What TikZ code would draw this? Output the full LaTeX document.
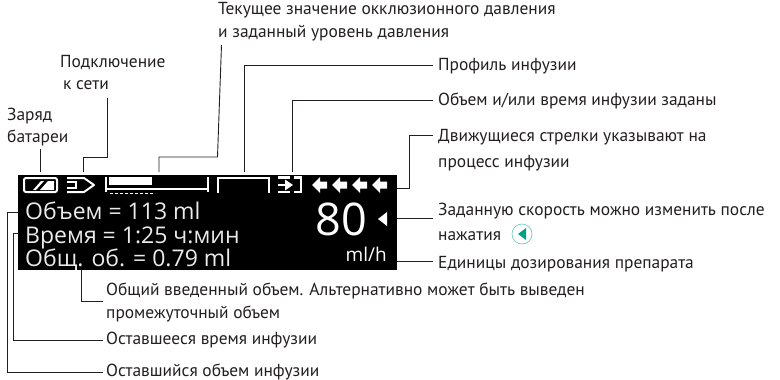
\documentclass[tikz,border=0pt]{standalone}
\usepackage{fontspec}
\setmainfont{PT Sans}
\newfontfamily\dispfont{Open Sans}
\definecolor{ink}{HTML}{231F20}
\definecolor{teal1}{HTML}{00A088}
\tikzset{
  lead/.style={draw=ink,line width=0.9pt},
  cap1/.style={anchor=base west,inner sep=0pt,text=ink,font=\fontsize{17.4}{18}\selectfont},
  disp/.style={anchor=base west,inner sep=0pt,text=white!92!black,font=\dispfont\fontsize{23}{24}\selectfont},
  pix/.style={draw=white,line width=2pt},
}
\begin{document}
\begin{tikzpicture}[x=1pt,y=-1pt]
\useasboundingbox (0,0) rectangle (780,380);
\fill[black] (18,175) rectangle (397,270);
\node[cap1] (t1) at (218,15) {Текущее значение окклюзионного давления};
\node[cap1] (t2) at (218,37) {и заданный уровень давления};
\node[cap1] (t3) at (60,67) {Подключение};
\node[cap1] (t3b) at (63,89) {к сети};
\node[cap1] (t4) at (7,120.5) {Заряд};
\node[cap1] (t4b) at (7,142.5) {батареи};
\node[cap1] (r1) at (438,70) {Профиль инфузии};
\node[cap1] (r2) at (438,105) {Объем и/или время инфузии заданы};
\node[cap1] (r3) at (438,141.5) {Движущиеся стрелки указывают на};
\node[cap1] (r3b) at (438,167.5) {процесс инфузии};
\node[cap1] (r4) at (438,215) {Заданную скорость можно изменить после};
\node[cap1] (r4b) at (438,240) {нажатия};
\node[cap1] (r5) at (438,268) {Единицы дозирования препарата};
\node[cap1] (b1) at (106,295) {Общий введенный объем. Альтернативно может быть выведен};
\node[cap1] (b1b) at (106,318) {промежуточный объем};
\node[cap1] (b2) at (106,344) {Оставшееся время инфузии};
\node[cap1] (b3) at (106,376) {Оставшийся объем инфузии};
\coordinate (k) at (522,234);
\draw[teal1!60,line width=0.6pt,fill=white] (k) circle (10);
\fill[teal1] (526,228) -- (526,240) -- (518,234) -- cycle;
% display text
\node[disp] (d1) at (25,219) {Объем = 113 ml};
\node[disp] (d2) at (25,243) {Время = 1:25 ч:мин};
\node[disp] (d3) at (25,266.5) {Общ. об. = 0.79 ml};
\node[anchor=base east,inner sep=0pt,text=white,font=\dispfont\fontsize{45}{48}\selectfont] (d80) at (367,235) {80};
\node[anchor=base east,inner sep=0pt,text=white,font=\dispfont\fontsize{19}{20}\selectfont] (dml) at (387,261) {ml/h};
\fill[white] (387,212) -- (387,226) -- (378,219) -- cycle;
% battery
\draw[pix,rounded corners=2pt] (24,178) rectangle (57,192);
\fill[white] (33,190) -- (41,181) -- (44,181) -- (36,190) -- cycle;
\fill[white] (40,190) -- (48,181) -- (54,181) -- (54,190) -- cycle;
% plug
\draw[pix,line join=round] (67,178) -- (84,178) -- (94,185) -- (84,192) -- (67,192);
\draw[pix] (67,182) -- (76,182) -- (76,188) -- (67,188);
% pressure bar
\draw[pix,line width=1.6pt] (106,177) -- (106,192) (208,177) -- (208,192) (106,189) -- (208,189);
\fill[white] (109,177) rectangle (152,185);
\draw[white,line width=1.4pt,dash pattern=on 3pt off 2pt] (110,193.5) -- (155,193.5);
% profile
\draw[pix] (218,193) -- (218,178) -- (269,178) -- (269,193);
% set icon
\draw[white,line width=2.4pt] (278,177.5) -- (290,177.5) (278,192) -- (290,192) (278,185) -- (288,185);
\fill[white] (285,179.5) -- (293,185) -- (285,190.5) -- cycle;
\draw[white,line width=2.4pt] (294,177.5) -- (301,177.5) -- (301,192) -- (294,192);
% arrows
\foreach \ax in {312,332,352,372}{
  \fill[white] (\ax,185) -- (\ax+8,177) -- (\ax+8,181.5) -- (\ax+15,181.5) -- (\ax+15,188.5) -- (\ax+8,188.5) -- (\ax+8,193) -- cycle;
}
% connectors
\coordinate (c1) at (40,172); \coordinate (c1t) at (40,149);
\draw[lead] (c1t) -- (c1);
\draw[lead] (107,98) -- (107,157) -- (83,157) -- (83,172);
\draw[lead] (221.5,45) -- (217.5,157) -- (159,157) -- (159,172);
\draw[lead] (244,172) -- (244,65.5) -- (433,65.5);
\draw[lead] (292,172) -- (292,100) -- (433,100);
\draw[lead] (397,188) -- (409,188) -- (409,135.5) -- (433,135.5);
\draw[lead] (397,218.5) -- (433,218.5);
\draw[lead] (397,261) -- (433,261);
\draw[lead] (81,270) -- (81,301) -- (103,301);
\draw[lead] (18,233) -- (13,233) -- (13,340.5) -- (103,340.5);
\draw[lead] (18,212) -- (7,212) -- (7,372) -- (103,372);
\end{tikzpicture}
\end{document}
